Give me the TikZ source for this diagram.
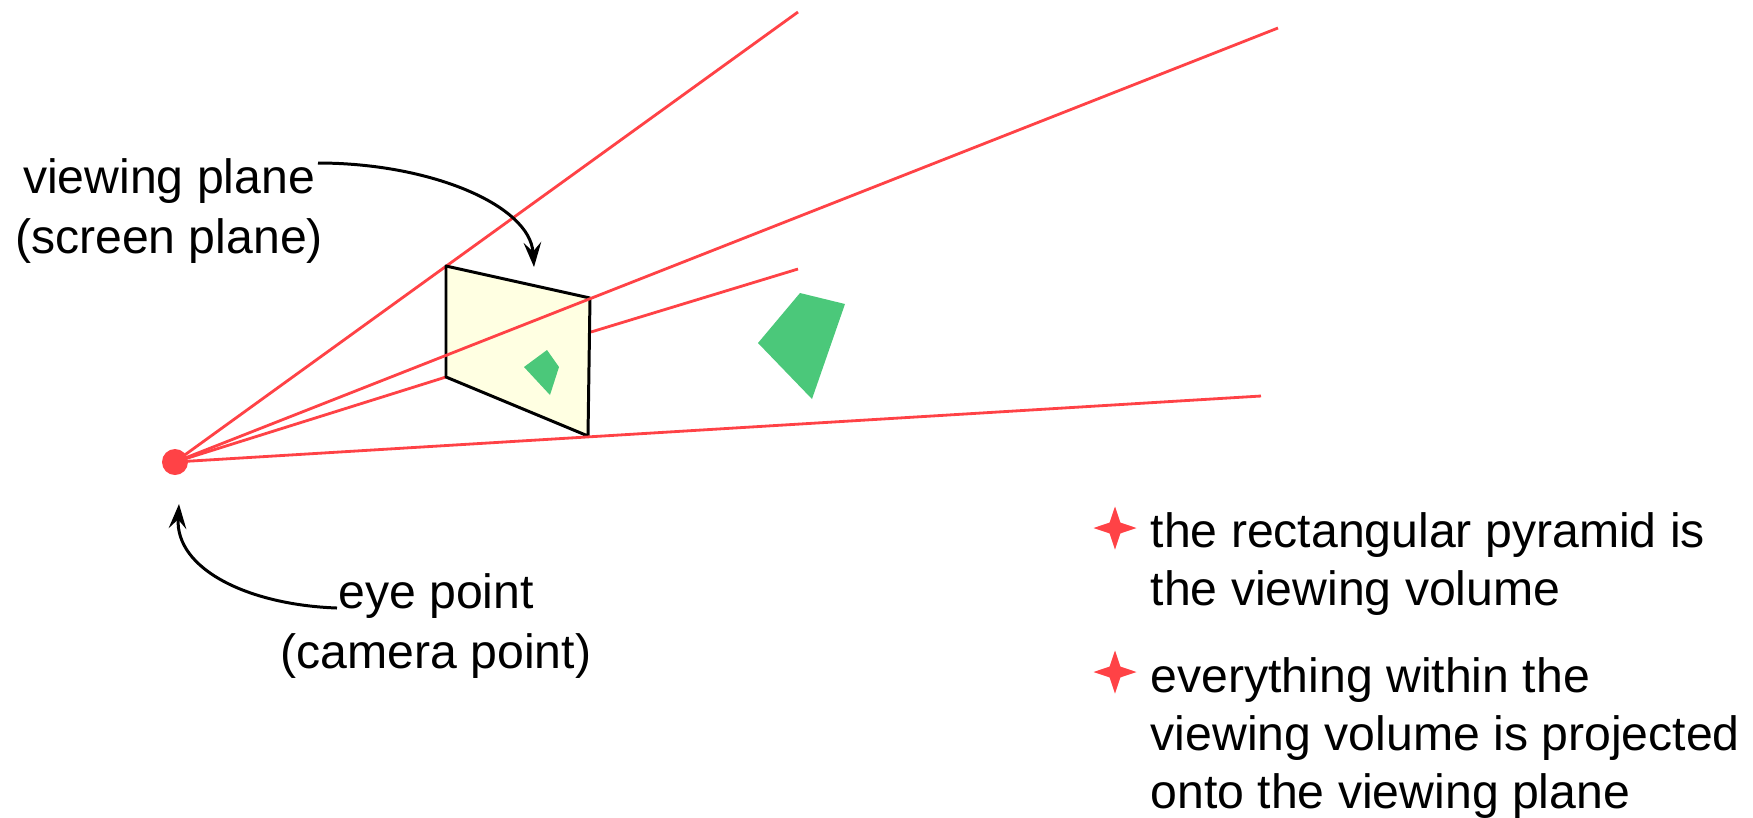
\documentclass[tikz,border=0pt]{standalone}
\usepackage{fontspec}
\setmainfont{Liberation Sans}
\usetikzlibrary{arrows.meta,shapes.geometric}
\definecolor{rayred}{RGB}{255,66,70}
\definecolor{objgreen}{RGB}{75,200,122}
\definecolor{planeyellow}{RGB}{255,255,226}
\tikzset{
	ray/.style={draw=rayred, line width=0.8pt},
	label/.style={align=center, inner sep=0pt, font=\fontsize{13.7}{16.8}\selectfont},
	note/.style={align=left, anchor=north west, inner sep=0pt, font=\fontsize{13.7}{16.5}\selectfont},
	spark/.style={star, star points=4, star point ratio=2.8, fill=rayred, inner sep=0pt, minimum size=43*0.01cm},
	obj/.style={fill=objgreen},
}

\begin{document}
\begin{tikzpicture}[x=0.01cm, y=-0.01cm, >={Stealth[length=7pt, width=5pt, inset=2.6pt]}]
		\useasboundingbox (0,0) rectangle (1753,817);
		\node[circle, fill=rayred, inner sep=0pt, minimum size=26*0.01cm] (eye) at (175,462) {};
		% corners of the plane, ray ends
		\coordinate (pa) at (446,266);
		\coordinate (pb) at (590,298);
		\coordinate (pc) at (588,436);
		\coordinate (pd) at (446,377);
		\coordinate (ra) at (798,12);
		\coordinate (rb) at (1278,28);
		\coordinate (rc) at (798,269);
		\coordinate (rcin) at (591,332);
		\coordinate (rd) at (1261,396);
		% rays behind the plane
		\draw[ray] (eye.center) -- (ra);
		\draw[ray] (eye.center) -- (pd);
		\draw[ray] (rcin) -- (rc);
		% viewing plane and objects
		\draw[fill=planeyellow, line width=0.85pt, line join=round] (pa) -- (pb) -- (pc) -- (pd) -- cycle;
		\fill[obj] (547,350) -- (559,367) -- (550,395) -- (524,367) -- cycle;
		\fill[obj] (800,293) -- (845,304) -- (812,399) -- (758,343) -- cycle;
		% rays over the plane
		\draw[ray] (eye.center) -- (rb);
		\draw[ray] (eye.center) -- (rd);
		% labels
		\node[label] (plane) at (169,211) {viewing plane\\(screen plane)};
		\node[label] (point) at (436,626) {eye point\\(camera point)};
		\coordinate (planefrom) at (318,163);
		\coordinate (planeto) at (534,267);
		\coordinate (pointfrom) at (337,608);
		\coordinate (pointto) at (179,504);
		\draw[->, line width=0.85pt] (planefrom) .. controls (430,163) and (530,205) .. (planeto);
		\draw[->, line width=0.85pt] (pointfrom) .. controls (250,605) and (175,570) .. (pointto);
		% bullets
		\node[spark] (sparka) at (1115,528) {};
		\node[spark] (sparkb) at (1115,672) {};
		\node[note] (notea) at (1150,512) {the rectangular pyramid is\\the viewing volume};
		\node[note] (noteb) at (1150,657) {everything within the\\viewing volume is projected\\onto the viewing plane};
	\end{tikzpicture}
\end{document}
